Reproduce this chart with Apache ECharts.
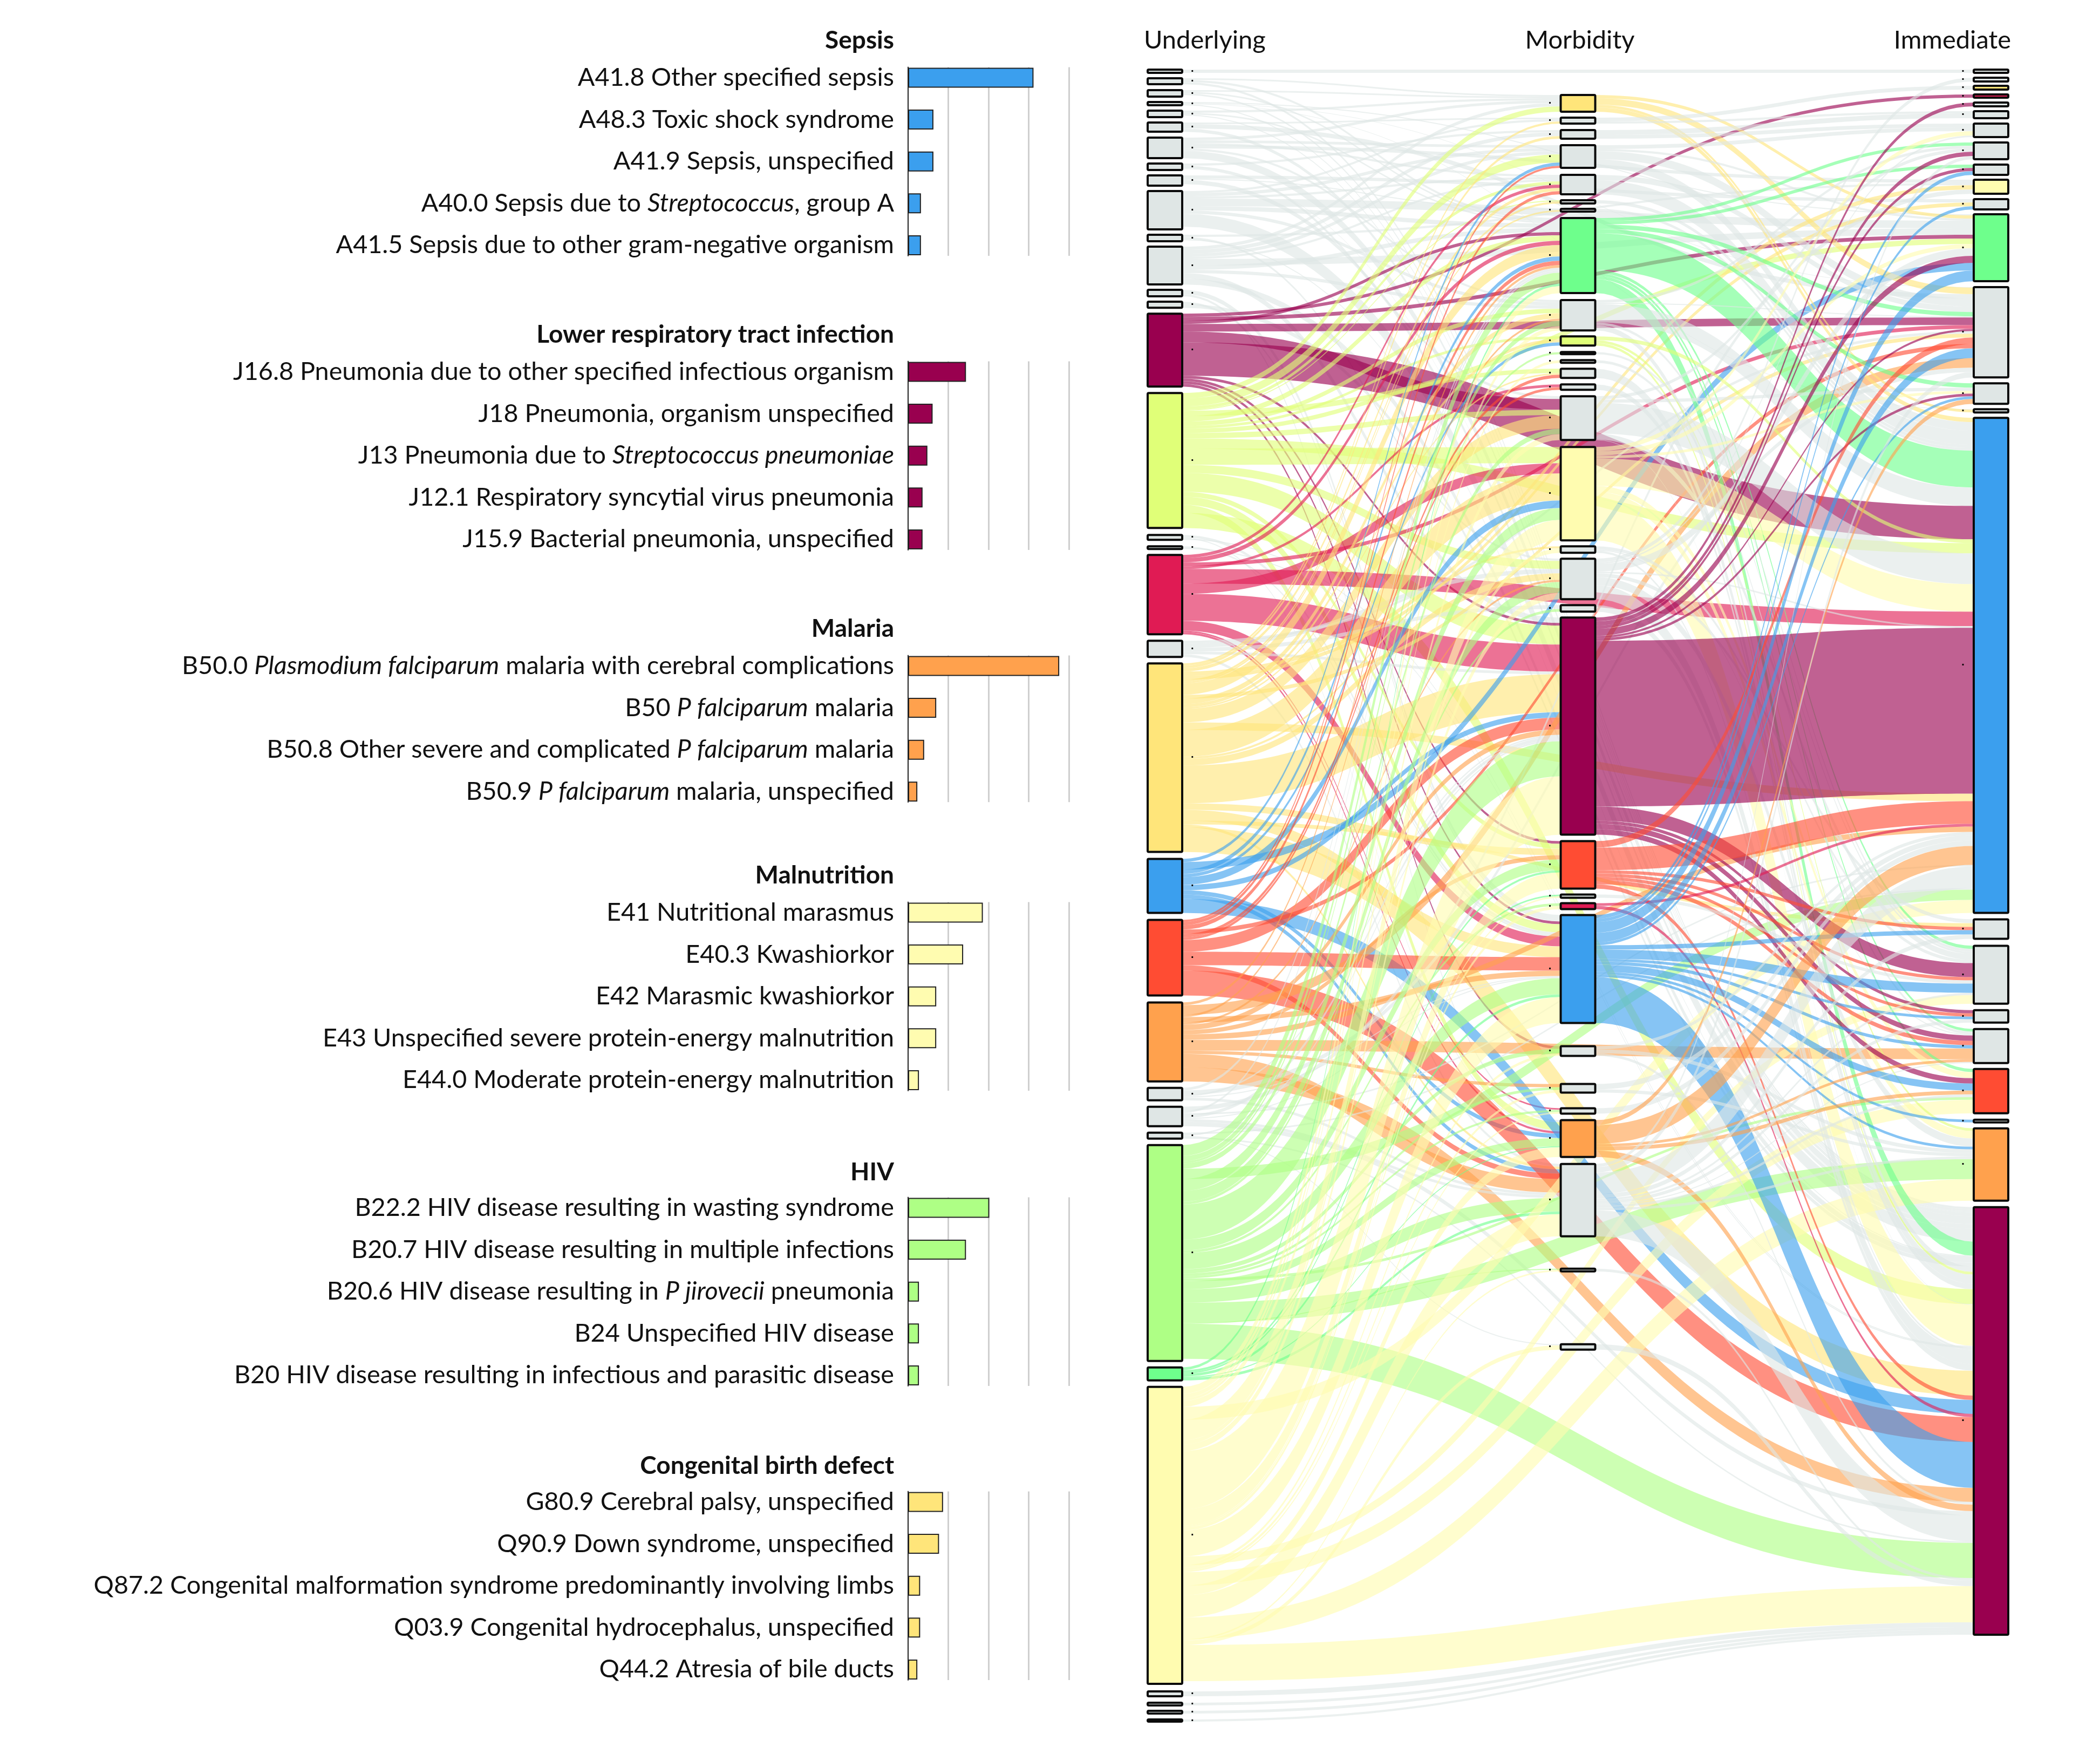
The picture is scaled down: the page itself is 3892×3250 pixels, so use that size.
<!DOCTYPE html>
<html>
<head>
<meta charset="utf-8">
<style>html,body{margin:0;padding:0;background:#fff}#c{width:3892px;height:3250px}</style>
<script src="https://cdn.jsdelivr.net/npm/echarts@6/dist/echarts.min.js"></script>
</head>
<body>
<div id="c"></div>
<script>
/* ---------- bar panels ---------- */
const groupTitles = ['Sepsis','Lower respiratory tract infection','Malaria','Malnutrition','HIV','Congenital birth defect'];
const sepsisNames = ['A41.8 Other specified sepsis','A48.3 Toxic shock syndrome','A41.9 Sepsis, unspecified','A40.0 Sepsis due to *Streptococcus*, group A','A41.5 Sepsis due to other gram-negative organism'];
const sepsisValues = [15.6,3.15,3.15,1.6,1.6];
const lowerRespNames = ['J16.8 Pneumonia due to other specified infectious organism','J18 Pneumonia, organism unspecified','J13 Pneumonia due to *Streptococcus pneumoniae*','J12.1 Respiratory syncytial virus pneumonia','J15.9 Bacterial pneumonia, unspecified'];
const lowerRespValues = [7.2,3.05,2.4,1.8,1.8];
const malariaNames = ['B50.0 *Plasmodium falciparum* malaria with cerebral complications','B50 *P falciparum* malaria','B50.8 Other severe and complicated *P falciparum* malaria','B50.9 *P falciparum* malaria, unspecified'];
const malariaValues = [18.8,3.5,2.0,1.15];
const malnutritionNames = ['E41 Nutritional marasmus','E40.3 Kwashiorkor','E42 Marasmic kwashiorkor','E43 Unspecified severe protein-energy malnutrition','E44.0 Moderate protein-energy malnutrition'];
const malnutritionValues = [9.3,6.85,3.5,3.5,1.35];
const hivNames = ['B22.2 HIV disease resulting in wasting syndrome','B20.7 HIV disease resulting in multiple infections','B20.6 HIV disease resulting in *P jirovecii* pneumonia','B24 Unspecified HIV disease','B20 HIV disease resulting in infectious and parasitic disease'];
const hivValues = [10.1,7.2,1.35,1.35,1.35];
const congenitalNames = ['G80.9 Cerebral palsy, unspecified','Q90.9 Down syndrome, unspecified','Q87.2 Congenital malformation syndrome predominantly involving limbs','Q03.9 Congenital hydrocephalus, unspecified','Q44.2 Atresia of bile ducts'];
const congenitalValues = [4.35,3.85,1.5,1.5,1.15];

/* ---------- sankey ---------- */
const columnTitles = ['Underlying','Morbidity','Immediate'];
const underlyingValues = [6,11,12,6,12,17,38,12,19,71,12,70,12,11,135,250,9,5,147,30,349,100,140,146,23,36,11,400,24,550,9,5,5,4];
const morbidityValues = [31,11,16,42,36,6,5,139,56,17,4,5,17,10,81,173,12,75,12,402,88,6,11,200,18,16,10,68,134,5,10];
const immediateValues = [6,7,7,6,7,13,25,31,19,26,19,124,167,38,6,917,36,107,23,63,82,5,134,792];

const underlyingFlows = [
['U1','I1',6],
['U2','M1',3],['U2','M8',4],['U2','I24',4],
['U3','M1',3],['U3','M8',3],['U3','I24',3],
['U4','I12',2],['U4','I13',1],['U4','I15',1],['U4','I24',2],
['U5','M1',4],['U5','M8',3],['U5','I24',2],
['U6','M2',3],['U6','I13',8],['U6','I24',6],
['U7','M1',5],['U7','M4',5],['U7','M5',4],['U7','M9',4],['U7','I10',6],['U7','I24',14],
['U8','M3',4],['U8','M15',5],['U8','I24',1],
['U9','M7',2],['U9','I11',6],['U9','I24',8],
['U10','M2',4],['U10','M4',6],['U10','M5',4],['U10','M8',8],['U10','M9',6],['U10','I12',14],['U10','I24',24],
['U11','M18',4],['U11','I10',4],['U11','I24',2],
['U12','M1',6],['U12','M3',7],['U12','M4',6],['U12','M5',4],['U12','M8',8],['U12','M9',6],['U12','M20',10],['U12','I12',12],['U12','I24',11],
['U13','M24',8],['U13','M28',4],
['U14','M24',4],['U14','I24',7],
['U15','I4',6],['U15','M8',6],['U15','I12',7],['U15','I13',14],['U15','M15',20],['U15','I16',62],['U15','M20',5],['U15','M21',5],['U15','M24',5],['U15','M25',5],
['U16','M1',10],['U16','M4',15],['U16','M5',6],['U16','M6',2],['U16','M8',10],['U16','M9',8],['U16','M10',5],['U16','M13',8],['U16','M15',10],['U16','M16',30],['U16','M18',15],['U16','M20',35],['U16','M21',9],['U16','M24',15],['U16','M28',15],['U16','I12',10],['U16','I16',19],['U16','I24',28],
['U17','M24',5],['U17','M28',2],['U17','I24',2],
['U18','M24',3],['U18','I24',2],
['U19','M5',6],['U19','M8',8],['U19','M14',5],['U19','M16',19],['U19','M20',50],['U19','M24',18],['U19','M27',3],['U19','M28',4],['U19','I13',7],['U19','I16',27],
['U20','M18',8],['U20','M19',7],['U20','M20',5],['U20','M29',5],['U20','I13',5],
['U21','M2',4],['U21','M3',5],['U21','M5',6],['U21','M6',4],['U21','M7',3],['U21','M8',21],['U21','M9',10],['U21','M10',6],['U21','M13',3],['U21','M15',25],['U21','M16',50],['U21','M17',4],['U21','M18',12],['U21','M20',70],['U21','M21',12],['U21','M24',20],['U21','M29',5],['U21','I10',8],['U21','I11',7],['U21','I13',7],['U21','I16',14],['U21','I17',7],['U21','I24',46],
['U22','M4',6],['U22','M8',8],['U22','M10',6],['U22','M16',14],['U22','M20',10],['U22','M28',8],['U22','M29',8],['U22','I12',14],['U22','I24',26],
['U23','M4',4],['U23','M5',6],['U23','M8',8],['U23','M13',6],['U23','M14',5],['U23','M20',22],['U23','M24',25],['U23','M29',10],['U23','I13',8],['U23','I24',46],
['U24','M8',5],['U24','M9',4],['U24','M18',4],['U24','M20',10],['U24','M21',8],['U24','M24',10],['U24','M26',6],['U24','M29',25],['U24','I13',18],['U24','I16',10],['U24','I20',20],['U24','I24',26],
['U25','M8',5],['U25','M20',3],['U25','M24',2],['U25','M29',5],['U25','I13',8],
['U26','M8',4],['U26','M20',6],['U26','M24',2],['U26','M29',5],['U26','I10',8],['U26','I16',3],['U26','I24',8],
['U27','M20',3],['U27','M31',2],['U27','I16',3],['U27','I24',3],
['U28','M8',20],['U28','M9',10],['U28','M11',4],['U28','M15',10],['U28','M16',22],['U28','M18',20],['U28','M19',5],['U28','M20',65],['U28','M21',20],['U28','M23',5],['U28','M24',30],['U28','M25',8],['U28','M26',5],['U28','M27',4],['U28','M28',15],['U28','M29',25],['U28','M30',2],['U28','I16',19],['U28','I21',5],['U28','I23',37],['U28','I24',65],
['U29','M8',5],['U29','M21',4],['U29','M22',3],['U29','M24',5],['U29','M28',2],['U29','M29',5],
['U30','M8',13],['U30','M9',8],['U30','M12',5],['U30','M15',11],['U30','M16',38],['U30','M17',8],['U30','M18',12],['U30','M20',108],['U30','M21',30],['U30','M22',3],['U30','M23',6],['U30','M24',48],['U30','M25',5],['U30','M26',5],['U30','M27',3],['U30','M28',18],['U30','M29',41],['U30','M30',3],['U30','M31',8],['U30','I16',24],['U30','I18',16],['U30','I21',25],['U30','I23',40],['U30','I24',67],
['U31','I24',9],['U32','I24',5],['U33','I24',5],['U34','I24',4]
];
const morbidityFlows = [
['M1','I12',6],['M1','I13',12],['M1','I15',5],['M1','I16',8],
['M2','I3',7],['M2','I6',4],
['M3','I6',9],['M3','I7',7],
['M4','I7',7],['M4','I12',4],['M4','I13',15],['M4','I16',16],
['M5','I13',10],['M5','I16',26],
['M6','I16',6],['M7','I16',5],
['M8','I8',6],['M8','I9',6],['M8','I13',8],['M8','I14',8],['M8','I16',68],['M8','I18',6],['M8','I20',5],['M8','I21',6],['M8','I24',26],
['M9','I8',5],['M9','I13',2],['M9','I16',34],['M9','I18',5],['M9','I24',10],
['M10','I16',7],['M10','I23',5],['M10','I24',5],
['M11','I18',4],['M12','I20',5],
['M13','I24',17],
['M14','I24',10],
['M15','I8',6],['M15','I14',6],['M15','I16',57],['M15','I18',11],['M15','I24',1],
['M16','I7',8],['M16','I12',8],['M16','I14',5],['M16','I16',51],['M16','I21',11],['M16','I23',14],['M16','I24',76],
['M17','I18',6],['M17','I20',2],['M17','I24',4],
['M18','I2',7],['M18','I7',3],['M18','I12',14],['M18','I16',3],['M18','I17',7],['M18','I23',15],['M18','I24',26],
['M19','I24',12],
['M20','I5',7],['M20','I8',8],['M20','I9',6],['M20','I12',13],['M20','I13',4],['M20','I14',5],['M20','I16',307],['M20','I18',26],['M20','I19',6],['M20','I20',10],['M20','I21',10],
['M21','I13',12],['M21','I16',42],['M21','I17',6],['M21','I18',6],['M21','I19',6],['M21','I20',8],['M21','I24',8],
['M22','I18',6],
['M23','I16',5],['M23','I24',6],
['M24','I9',7],['M24','I11',6],['M24','I12',20],['M24','I13',18],['M24','I14',5],['M24','I17',8],['M24','I18',17],['M24','I19',5],['M24','I20',6],['M24','I21',13],['M24','I22',5],['M24','I23',5],['M24','I24',85],
['M25','I16',6],['M25','I23',7],['M25','I24',5],
['M26','I16',10],['M26','I23',6],
['M27','I16',10],
['M28','I14',9],['M28','I16',35],['M28','I20',5],['M28','I21',7],['M28','I24',12],
['M29','I8',6],['M29','I13',10],['M29','I16',40],['M29','I17',8],['M29','I18',4],['M29','I19',6],['M29','I20',2],['M29','I21',5],['M29','I23',5],['M29','I24',48],
['M30','I24',5],['M31','I24',10]
];

/* ---------- styling and layout (not data) ---------- */
const TEXT = 'Lato,"Liberation Sans",sans-serif';
const FS = 46.7, FS_HEAD = 46, FS_COL = 47;
const C = {grey:'#DFE6E5',maroon:'#99004F',lime:'#E0FF78',crimson:'#E01B54',gold:'#FFE57A',blue:'#3B9FEE',red:'#FF4C33',orange:'#FFA14D',lgreen:'#AEFF85',mint:'#6EFF8C',pale:'#FFFCB0'};
const nodeColor = {U15:C.maroon,U16:C.lime,U19:C.crimson,U21:C.gold,U22:C.blue,U23:C.red,U24:C.orange,U28:C.lgreen,U29:C.mint,U30:C.pale,
  M1:C.gold,M8:C.mint,M10:C.lime,M16:C.pale,M20:C.maroon,M21:C.red,M23:C.crimson,M24:C.blue,M28:C.orange,
  I3:C.gold,I4:C.crimson,I10:C.pale,I12:C.mint,I16:C.blue,I21:C.red,I23:C.orange,I24:C.maroon};
const sankeyBox = {left:2127,top:129,width:1595,height:3061,nodeWidth:64,nodeGap:11.3};
const underlyingGaps = [0,10,11,10,10,10,11,10,10,10,10,10,10,10,11,12,13,12,11,12,12,13,13,13,12,12,12,12,12,12,14,12,10,11];
const morbidityGaps = [47,11,12,12,13,11,10,12,13,11,12,11,11,12,12,13,11,11,11,11,12,11,10,11,43,52,29,12,13,60,135];
const immediateGaps = [0,9,8,9,9,9,10,10,10,9,10,9,11,11,10,10,12,13,12,12,11,12,11,12];
const morbiditySortOffset = 64; // unseen padding: lets the link stacking order follow the drawn column heights
const barPanels = [
  {title:groupTitles[0],names:sepsisNames,values:sepsisValues,color:C.blue,center:144,head:75},
  {title:groupTitles[1],names:lowerRespNames,values:lowerRespValues,color:C.maroon,center:689,head:620},
  {title:groupTitles[2],names:malariaNames,values:malariaValues,color:C.orange,center:1234,head:1165},
  {title:groupTitles[3],names:malnutritionNames,values:malnutritionValues,color:C.pale,center:1691,head:1622},
  {title:groupTitles[4],names:hivNames,values:hivValues,color:C.lgreen,center:2238,head:2172},
  {title:groupTitles[5],names:congenitalNames,values:congenitalValues,color:C.gold,center:2783,head:2716}
];
const BAND = 77.6, BAR = 39, AXIS_X = 1683, AXIS_W = 298;

/* ---------- option ---------- */
const allFlows = underlyingFlows.concat(morbidityFlows);
function total(name, idx){ return allFlows.filter(f=>f[idx]===name).reduce((a,f)=>a+f[2],0); }
function effective(name, v){ return Math.max(v, total(name,0), total(name,1)); }
const uNames = underlyingValues.map((_,i)=>'U'+(i+1));
const mNames = morbidityValues.map((_,i)=>'M'+(i+1));
const iNames = immediateValues.map((_,i)=>'I'+(i+1));
const uSum = uNames.reduce((a,n,i)=>a+effective(n,underlyingValues[i]),0);
const ky = (sankeyBox.height - (uNames.length-1)*sankeyBox.nodeGap)/uSum;

const nodes = [];
function stacked(names, values, gaps, depth, labelPos){
  let y = 0;
  names.forEach((n,i)=>{
    y += gaps[i];
    nodes.push({name:n,value:values[i],depth,localY:y/sankeyBox.height,
      itemStyle:{color:nodeColor[n]||C.grey},label:{position:labelPos}});
    y += effective(n,values[i])*ky;
  });
}
stacked(uNames,underlyingValues,underlyingGaps,0,'right');
nodes.push({name:'M0',value:morbiditySortOffset,depth:1,itemStyle:{opacity:0,borderWidth:0},label:{show:false}});
stacked(mNames,morbidityValues,morbidityGaps,1,'left');
stacked(iNames,immediateValues,immediateGaps,2,'left');

const links = allFlows.map(f=>({source:f[0],target:f[1],value:f[2]}));

const labelRich = {
  r:{fontFamily:TEXT,fontSize:FS,color:'#111'},
  i:{fontFamily:TEXT,fontSize:FS,color:'#111',fontStyle:'italic'}
};
function markup(s){
  return s.split('*').map((p,i)=>p===''?'':'{'+(i%2?'i':'r')+'|'+p+'}').join('');
}

const grid=[],xAxis=[],yAxis=[],series=[],title=[];
barPanels.forEach((p,k)=>{
  const n=p.names.length;
  const gi=grid.length;
  grid.push({left:AXIS_X,width:AXIS_W,top:p.center-BAR/2,height:(n-1)*BAND+BAR});
  xAxis.push({gridIndex:gi,type:'value',min:0,max:20,interval:5,axisLine:{show:false},axisTick:{show:false},axisLabel:{show:false},
    splitLine:{show:true,showMinLine:false,showMaxLine:true,lineStyle:{color:'#cfcfcf',width:3}}});
  yAxis.push({gridIndex:gi,type:'category',data:['_'],axisLine:{show:true,onZero:false,lineStyle:{color:'#222',width:2}},axisTick:{show:false},axisLabel:{show:false},splitLine:{show:false}});
  series.push({type:'bar',xAxisIndex:gi,yAxisIndex:gi,data:[],silent:true});
  const di=grid.length;
  grid.push({left:AXIS_X,width:AXIS_W,top:p.center-BAND/2,height:n*BAND});
  xAxis.push({gridIndex:di,type:'value',min:0,max:20,interval:5,show:false,splitLine:{show:false}});
  yAxis.push({gridIndex:di,type:'category',inverse:true,data:p.names,
    axisLine:{show:false},axisTick:{show:false},splitLine:{show:false},
    axisLabel:{show:true,interval:0,margin:26,align:'right',verticalAlign:'middle',formatter:markup,rich:labelRich}});
  series.push({type:'bar',xAxisIndex:di,yAxisIndex:di,data:p.values,barWidth:BAR-2,silent:true,z:3,
    itemStyle:{color:p.color,borderColor:'#222',borderWidth:2}});
  title.push({text:p.title,left:1657,top:p.head,padding:0,textAlign:'right',textVerticalAlign:'middle',
    textStyle:{fontFamily:TEXT,fontSize:FS_HEAD,fontWeight:'bold',color:'#111'}});
});
const colStyle = {fontFamily:TEXT,fontSize:FS_COL,fontWeight:'normal',color:'#111'};
title.push({text:columnTitles[0],left:2120,top:75,padding:0,textAlign:'left',textVerticalAlign:'middle',textStyle:colStyle});
title.push({text:columnTitles[1],left:2928,top:75,padding:0,textAlign:'center',textVerticalAlign:'middle',textStyle:colStyle});
title.push({text:columnTitles[2],left:3727,top:75,padding:0,textAlign:'right',textVerticalAlign:'middle',textStyle:colStyle});

series.push({
  type:'sankey',silent:true,animation:false,
  left:sankeyBox.left,top:sankeyBox.top,width:sankeyBox.width,height:sankeyBox.height,
  nodeWidth:sankeyBox.nodeWidth,nodeGap:sankeyBox.nodeGap,layoutIterations:0,draggable:false,
  data:nodes,links:links,
  label:{show:true,formatter:'\u00B7',color:'#000',fontFamily:'"Liberation Sans"',fontSize:20,fontWeight:'bold',distance:14},
  itemStyle:{borderColor:'#0b0b0b',borderWidth:4,borderRadius:2,opacity:1},
  lineStyle:{color:'source',opacity:0.62,curveness:0.5},
  emphasis:{disabled:true}
});

const chart = echarts.init(document.getElementById('c'),null,{width:3892,height:3250,renderer:'canvas'});
chart.setOption({animation:false,backgroundColor:'#fff',title,grid,xAxis,yAxis,series});
</script>
</body>
</html>
